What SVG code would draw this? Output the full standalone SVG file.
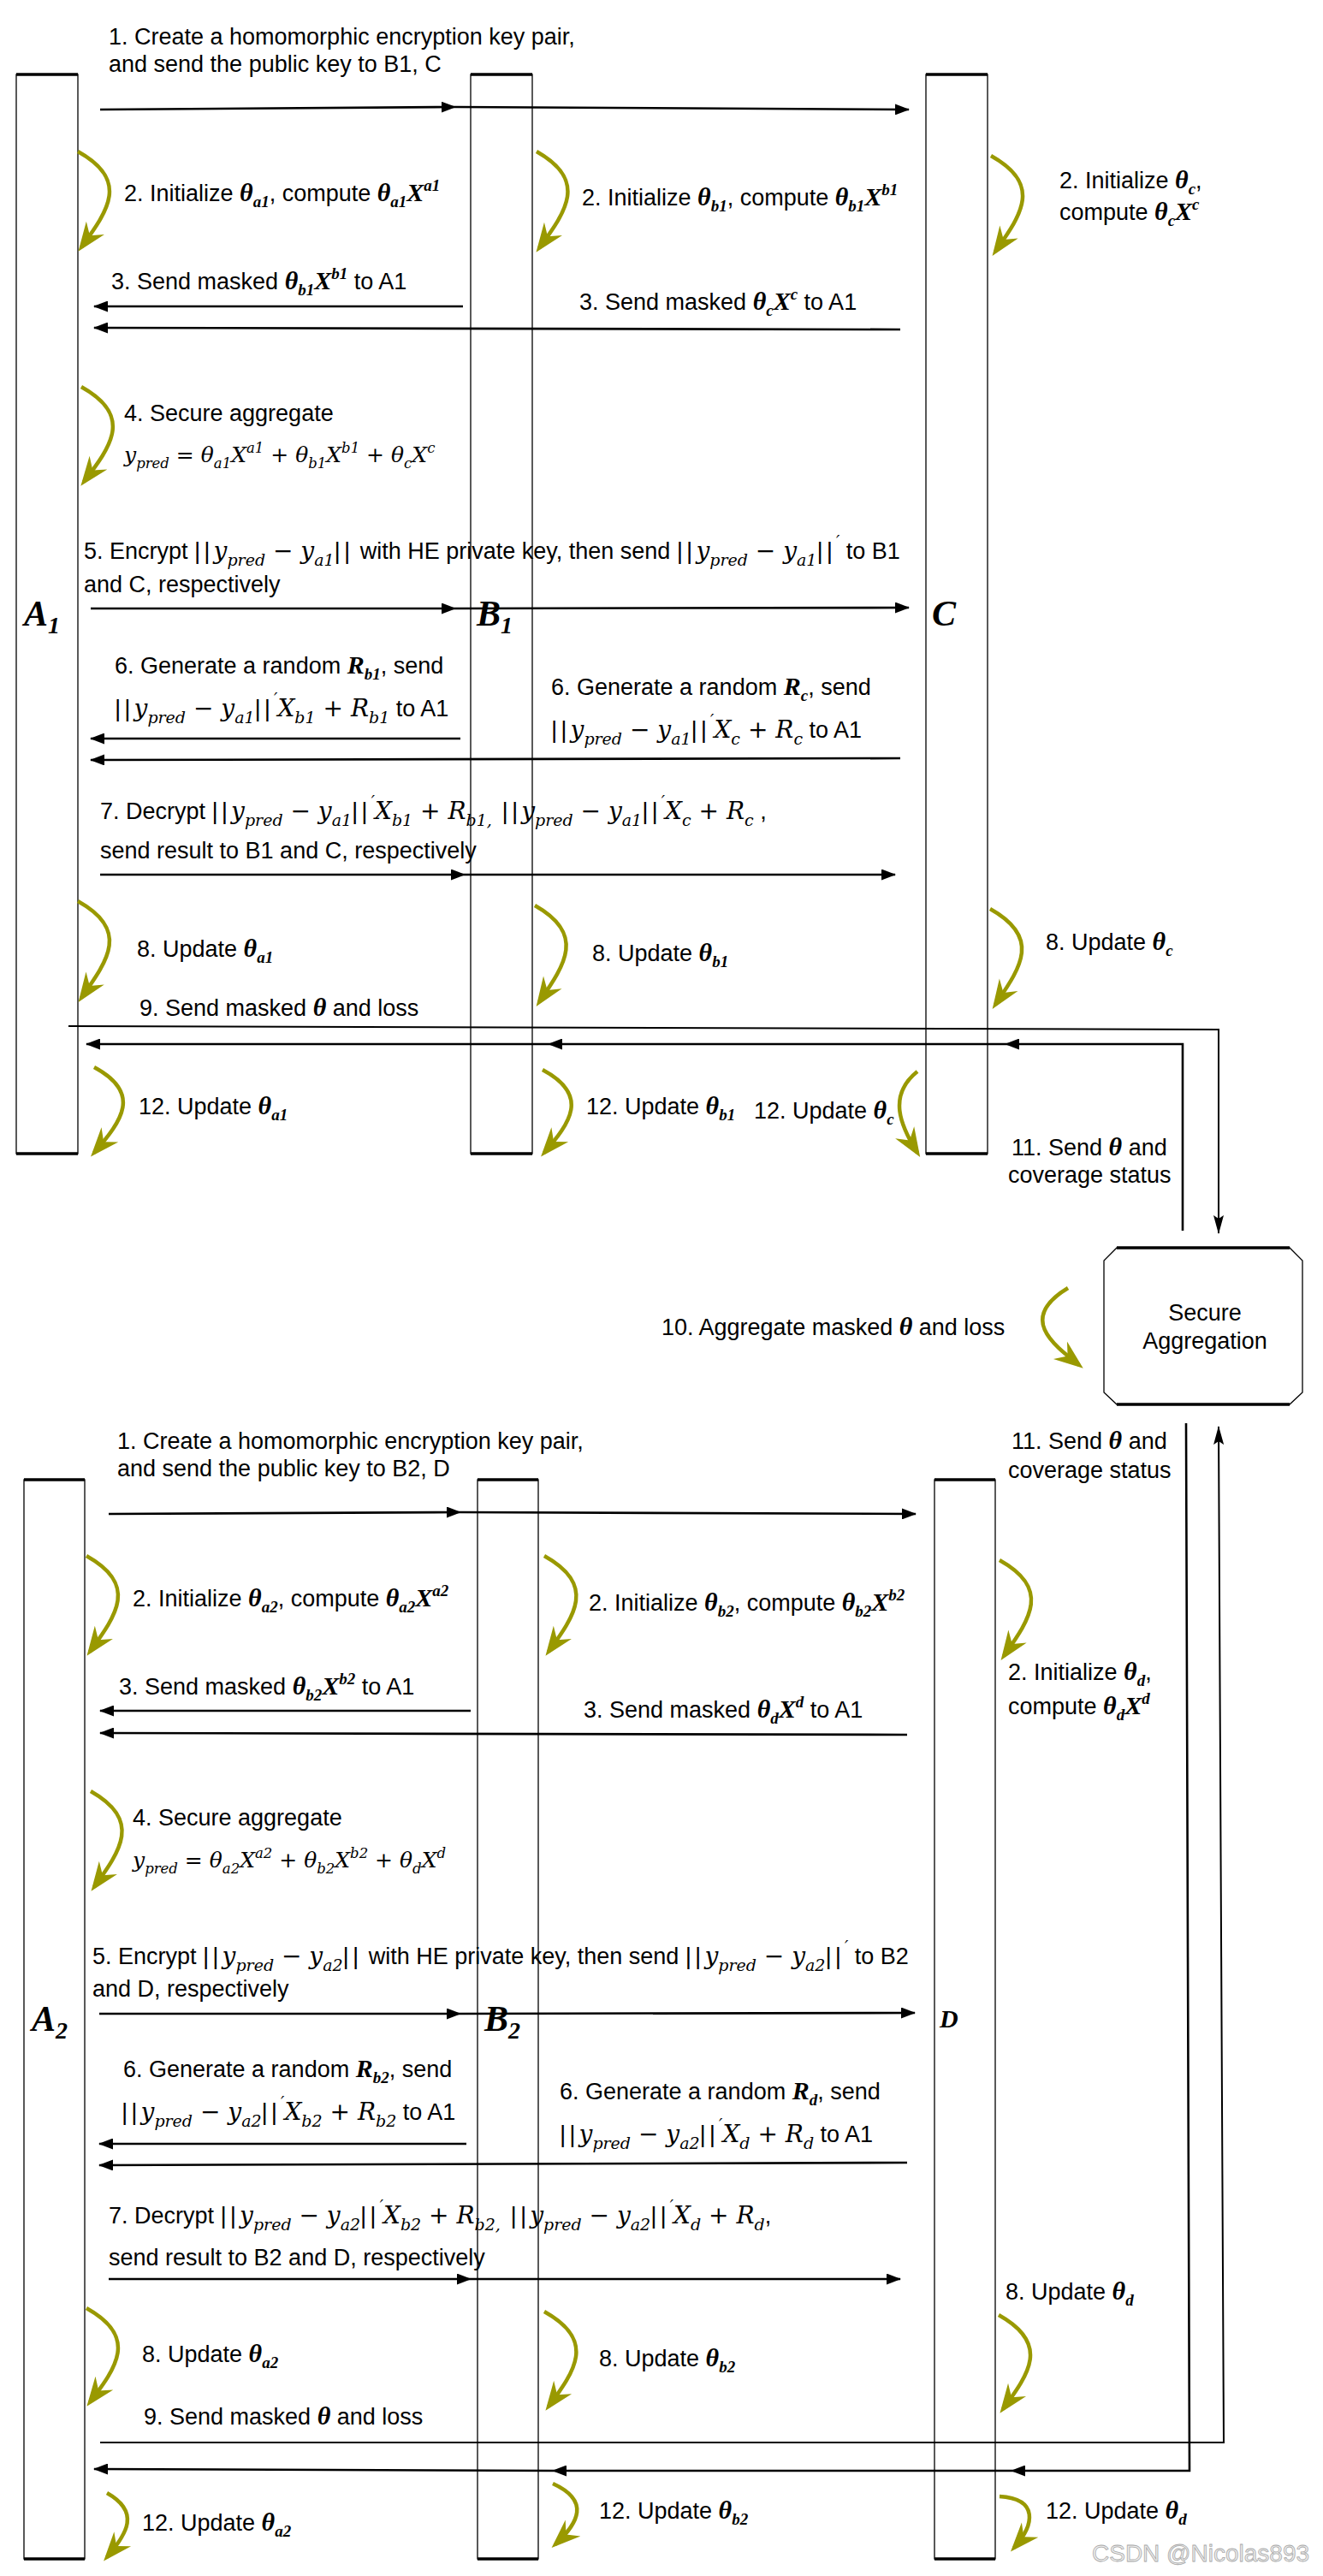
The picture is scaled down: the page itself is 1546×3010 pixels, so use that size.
<svg xmlns="http://www.w3.org/2000/svg" width="1546" height="3010" viewBox="0 0 1546 3010">
<style>
.t{font-family:"Liberation Sans",Arial,sans-serif;font-size:27px;fill:#000}
.m{font-family:"Liberation Serif","Times New Roman",serif;font-style:italic;font-weight:bold;font-size:30px}
.s{font-family:"Liberation Serif","Times New Roman",serif;font-style:italic;font-weight:bold;font-size:19px}
.o{font-family:"Liberation Serif","Times New Roman",serif;font-weight:bold;font-size:30px}
.M{font-family:"DejaVu Serif",serif;font-style:italic;font-size:28px}
.S{font-family:"DejaVu Serif",serif;font-style:italic;font-size:19px}
.O{font-family:"DejaVu Serif",serif;font-size:28px}
.F{font-family:"DejaVu Serif",serif;font-style:italic;font-size:25px}
.FS{font-family:"DejaVu Serif",serif;font-style:italic;font-size:16.5px}
.FO{font-family:"DejaVu Serif",serif;font-size:25px}
.bar{font-family:"Liberation Sans",Arial,sans-serif;font-size:28px;letter-spacing:4px}
.lbl{font-family:"Liberation Serif","Times New Roman",serif;font-style:italic;font-weight:bold;font-size:42px;fill:#000}
.lsub{font-family:"Liberation Serif","Times New Roman",serif;font-weight:bold;font-size:28px}
.life{fill:#fff;stroke:#000;stroke-width:1.3}
.edge{stroke:#000;stroke-width:3.5}
.msg{fill:none;stroke:#000;stroke-width:2.6;marker-end:url(#ah)}
.ret{fill:none;stroke:#000;stroke-width:2;marker-end:url(#ah2)}
.olive{fill:none;stroke:#999900;stroke-width:4.5;marker-end:url(#oh)}
.wm{font-family:"Liberation Sans",Arial,sans-serif;font-size:28px;fill:#eeeeee;stroke:#a8a8a8;stroke-width:0.8}
</style>
<defs>
<marker id="ah" markerUnits="userSpaceOnUse" markerWidth="17" markerHeight="13" refX="16" refY="6.5" orient="auto"><path d="M0,0 L17,6.5 L0,13 Z" fill="#000"/></marker>
<marker id="ah2" markerUnits="userSpaceOnUse" markerWidth="22" markerHeight="12" refX="21" refY="6" orient="auto"><path d="M0,0 L22,6 L0,12 L4,6 Z" fill="#000"/></marker>
<marker id="oh" markerUnits="userSpaceOnUse" markerWidth="34" markerHeight="26" refX="28" refY="13" orient="auto" overflow="visible"><path d="M34,13 L0,0 L11,13 L0,26 Z" fill="#999900"/></marker>
</defs>

<g id="A1"><rect class="life" x="19" y="87" width="72" height="1261"/><line class="edge" x1="19" y1="87" x2="91" y2="87"/><line class="edge" x1="19" y1="1348" x2="91" y2="1348"/><text class="lbl" x="28" y="731">A<tspan class="lsub" dy="9">1</tspan></text></g>
<g id="B1"><rect class="life" x="550" y="87" width="72" height="1261"/><line class="edge" x1="550" y1="87" x2="622" y2="87"/><line class="edge" x1="550" y1="1348" x2="622" y2="1348"/><text class="lbl" x="557" y="731">B<tspan class="lsub" dy="9">1</tspan></text></g>
<g id="C"><rect class="life" x="1082" y="87" width="72" height="1261"/><line class="edge" x1="1082" y1="87" x2="1154" y2="87"/><line class="edge" x1="1082" y1="1348" x2="1154" y2="1348"/><text class="lbl" x="1089" y="731">C</text></g>

<g id="SecureAggregation"><path class="life" d="M1305,1458 L1507,1458 L1522,1473 L1522,1627 L1507,1641 L1305,1641 L1290,1627 L1290,1473 Z"/><line class="edge" x1="1305" y1="1458" x2="1507" y2="1458"/><line class="edge" x1="1305" y1="1641" x2="1507" y2="1641"/><text class="t" x="1408" y="1543" text-anchor="middle">Secure</text><text class="t" x="1408" y="1576" text-anchor="middle">Aggregation</text></g>

<g id="A2"><rect class="life" x="28" y="1729" width="71" height="1261"/><line class="edge" x1="28" y1="1729" x2="99" y2="1729"/><line class="edge" x1="28" y1="2990" x2="99" y2="2990"/><text class="lbl" x="37" y="2373">A<tspan class="lsub" dy="9">2</tspan></text></g>
<g id="B2"><rect class="life" x="558" y="1729" width="71" height="1261"/><line class="edge" x1="558" y1="1729" x2="629" y2="1729"/><line class="edge" x1="558" y1="2990" x2="629" y2="2990"/><text class="lbl" x="566" y="2373">B<tspan class="lsub" dy="9">2</tspan></text></g>
<g id="D"><rect class="life" x="1092" y="1729" width="71" height="1261"/><line class="edge" x1="1092" y1="1729" x2="1163" y2="1729"/><line class="edge" x1="1092" y1="2990" x2="1163" y2="2990"/><text class="lbl" x="1098" y="2369" style="font-size:30px">D</text></g>

<g id="connectors">
<path class="msg" d="M117,128 L532,125"/><path class="msg" d="M532,125 L1062,128"/>
<path class="msg" d="M541,358 L110,358"/>
<path class="msg" d="M1052,385 L110,383"/>
<path class="msg" d="M106,711 L532,711"/><path class="msg" d="M532,711 L1062,710"/>
<path class="msg" d="M538,863 L106,863"/>
<path class="msg" d="M1052,886 L106,888"/>
<path class="msg" d="M117,1022 L543,1022"/><path class="msg" d="M543,1022 L1046,1022"/>
<path class="ret" d="M80,1199 L1424,1203 L1424,1441"/>
<path class="msg" d="M1382,1438 L1382,1220 L1175,1220"/><path class="msg" d="M1175,1220 L641,1220"/><path class="msg" d="M641,1220 L101,1220"/>

<path class="msg" d="M127,1769 L538,1767"/><path class="msg" d="M538,1767 L1070,1769"/>
<path class="msg" d="M550,1999 L117,1999"/>
<path class="msg" d="M1060,2027 L117,2025"/>
<path class="msg" d="M116,2353 L538,2353"/><path class="msg" d="M538,2353 L1069,2352"/>
<path class="msg" d="M545,2505 L116,2505"/>
<path class="msg" d="M1060,2527 L116,2530"/>
<path class="msg" d="M127,2663 L550,2663"/><path class="msg" d="M550,2663 L1052,2663"/>
<path class="ret" d="M117,2854 L1430,2854 L1424,1667"/>
<path class="msg" d="M1386,1663 L1390,2887 L1182,2887"/><path class="msg" d="M1182,2887 L646,2887"/><path class="msg" d="M646,2887 L110,2885"/>

<path class="olive" d="M91,177 C152,211 126,246 95,289"/>
<path class="olive" d="M627,177 C687,211 662,246 630,290"/>
<path class="olive" d="M1158,182 C1219,216 1193,251 1163,294"/>
<path class="olive" d="M95,452 C156,486 130,521 98,563"/>
<path class="olive" d="M91,1053 C152,1087 126,1122 95,1166"/>
<path class="olive" d="M625,1058 C685,1092 660,1127 630,1171"/>
<path class="olive" d="M1157,1062 C1218,1096 1192,1131 1163,1174"/>
<path class="olive" d="M110,1247 C166,1277 143,1309 110,1347"/>
<path class="olive" d="M634,1250 C690,1280 666,1312 636,1347"/>
<path class="olive" d="M1072,1252 C1037,1280 1052,1315 1072,1347"/>
<path class="olive" d="M1248,1505 C1190,1540 1229,1570 1261,1595"/>
<path class="olive" d="M101,1818 C162,1852 136,1887 105,1930"/>
<path class="olive" d="M636,1818 C697,1852 672,1887 641,1930"/>
<path class="olive" d="M1168,1823 C1229,1857 1203,1892 1173,1935"/>
<path class="olive" d="M106,2093 C166,2127 141,2162 110,2205"/>
<path class="olive" d="M101,2697 C162,2731 136,2766 105,2807"/>
<path class="olive" d="M636,2701 C697,2735 672,2770 641,2812"/>
<path class="olive" d="M1167,2705 C1228,2739 1202,2774 1172,2815"/>
<path class="olive" d="M125,2913 C164,2935 149,2960 125,2988"/>
<path class="olive" d="M646,2902 C690,2922 676,2948 649,2973"/>
<path class="olive" d="M1168,2917 C1214,2920 1209,2950 1185,2977"/>
</g>

<g id="labels">
<text class="t" x="127" y="52">1. Create a homomorphic encryption key pair,</text>
<text class="t" x="127" y="84">and send the public key to B1, C</text>
<text class="t" x="145" y="235">2. Initialize <tspan class="m">θ</tspan><tspan class="s" dy="7">a1</tspan><tspan dy="-7">, compute </tspan><tspan class="m">θ</tspan><tspan class="s" dy="7">a1</tspan><tspan class="m" dy="-7">X</tspan><tspan class="s" dy="-12">a1</tspan></text>
<text class="t" x="680" y="240">2. Initialize <tspan class="m">θ</tspan><tspan class="s" dy="7">b1</tspan><tspan dy="-7">, compute </tspan><tspan class="m">θ</tspan><tspan class="s" dy="7">b1</tspan><tspan class="m" dy="-7">X</tspan><tspan class="s" dy="-12">b1</tspan></text>
<text class="t" x="1238" y="220">2. Initialize <tspan class="m">θ</tspan><tspan class="s" dy="7">c</tspan><tspan dy="-7">,</tspan></text>
<text class="t" x="1238" y="257">compute <tspan class="m">θ</tspan><tspan class="s" dy="7">c</tspan><tspan class="m" dy="-7">X</tspan><tspan class="s" dy="-12">c</tspan></text>
<text class="t" x="130" y="338">3. Send masked <tspan class="m">θ</tspan><tspan class="s" dy="7">b1</tspan><tspan class="m" dy="-7">X</tspan><tspan class="s" dy="-12">b1</tspan><tspan dy="12"> to A1</tspan></text>
<text class="t" x="677" y="362">3. Send masked <tspan class="m">θ</tspan><tspan class="s" dy="7">c</tspan><tspan class="m" dy="-7">X</tspan><tspan class="s" dy="-12">c</tspan><tspan dy="12"> to A1</tspan></text>
<text class="t" x="145" y="492">4. Secure aggregate</text>
<text class="t" x="145" y="540"><tspan class="F">y</tspan><tspan class="FS" dy="7">pred</tspan><tspan class="FO" dy="-7"> = </tspan><tspan class="F">θ</tspan><tspan class="FS" dy="7">a1</tspan><tspan class="F" dy="-7">X</tspan><tspan class="FS" dy="-11">a1</tspan><tspan class="FO" dy="11"> + </tspan><tspan class="F">θ</tspan><tspan class="FS" dy="7">b1</tspan><tspan class="F" dy="-7">X</tspan><tspan class="FS" dy="-11">b1</tspan><tspan class="FO" dy="11"> + </tspan><tspan class="F">θ</tspan><tspan class="FS" dy="7">c</tspan><tspan class="F" dy="-7">X</tspan><tspan class="FS" dy="-11">c</tspan></text>
<text class="t" x="98" y="653">5. Encrypt <tspan class="bar">||</tspan><tspan class="M">y</tspan><tspan class="S" dy="8">pred</tspan><tspan class="O" dy="-8"> − </tspan><tspan class="M">y</tspan><tspan class="S" dy="8">a1</tspan><tspan class="bar" dy="-8">||</tspan><tspan> with HE private key, then send </tspan><tspan class="bar">||</tspan><tspan class="M">y</tspan><tspan class="S" dy="8">pred</tspan><tspan class="O" dy="-8"> − </tspan><tspan class="M">y</tspan><tspan class="S" dy="8">a1</tspan><tspan class="bar" dy="-8">||</tspan><tspan class="S" dy="-14">′</tspan><tspan dy="14"> to B1</tspan></text>
<text class="t" x="98" y="692">and C, respectively</text>
<text class="t" x="134" y="787">6. Generate a random <tspan class="m">R</tspan><tspan class="s" dy="7">b1</tspan><tspan dy="-7">, send</tspan></text>
<text class="t" x="134" y="837"><tspan class="bar">||</tspan><tspan class="M">y</tspan><tspan class="S" dy="8">pred</tspan><tspan class="O" dy="-8"> − </tspan><tspan class="M">y</tspan><tspan class="S" dy="8">a1</tspan><tspan class="bar" dy="-8">||</tspan><tspan class="S" dy="-14">′</tspan><tspan class="M" dy="14">X</tspan><tspan class="S" dy="8">b1</tspan><tspan class="O" dy="-8"> + </tspan><tspan class="M">R</tspan><tspan class="S" dy="8">b1</tspan><tspan dy="-8"> to A1</tspan></text>
<text class="t" x="644" y="812">6. Generate a random <tspan class="m">R</tspan><tspan class="s" dy="7">c</tspan><tspan dy="-7">, send</tspan></text>
<text class="t" x="644" y="862"><tspan class="bar">||</tspan><tspan class="M">y</tspan><tspan class="S" dy="8">pred</tspan><tspan class="O" dy="-8"> − </tspan><tspan class="M">y</tspan><tspan class="S" dy="8">a1</tspan><tspan class="bar" dy="-8">||</tspan><tspan class="S" dy="-14">′</tspan><tspan class="M" dy="14">X</tspan><tspan class="S" dy="8">c</tspan><tspan class="O" dy="-8"> + </tspan><tspan class="M">R</tspan><tspan class="S" dy="8">c</tspan><tspan dy="-8"> to A1</tspan></text>
<text class="t" x="117" y="957">7. Decrypt <tspan class="bar">||</tspan><tspan class="M">y</tspan><tspan class="S" dy="8">pred</tspan><tspan class="O" dy="-8"> − </tspan><tspan class="M">y</tspan><tspan class="S" dy="8">a1</tspan><tspan class="bar" dy="-8">||</tspan><tspan class="S" dy="-14">′</tspan><tspan class="M" dy="14">X</tspan><tspan class="S" dy="8">b1</tspan><tspan class="O" dy="-8"> + </tspan><tspan class="M">R</tspan><tspan class="S" dy="8">b1,</tspan><tspan class="bar" dy="-8"> ||</tspan><tspan class="M">y</tspan><tspan class="S" dy="8">pred</tspan><tspan class="O" dy="-8"> − </tspan><tspan class="M">y</tspan><tspan class="S" dy="8">a1</tspan><tspan class="bar" dy="-8">||</tspan><tspan class="S" dy="-14">′</tspan><tspan class="M" dy="14">X</tspan><tspan class="S" dy="8">c</tspan><tspan class="O" dy="-8"> + </tspan><tspan class="M">R</tspan><tspan class="S" dy="8">c</tspan><tspan dy="-8"> ,</tspan></text>
<text class="t" x="117" y="1003">send result to B1 and C, respectively</text>
<text class="t" x="160" y="1118">8. Update <tspan class="m">θ</tspan><tspan class="s" dy="7">a1</tspan></text>
<text class="t" x="692" y="1123">8. Update <tspan class="m">θ</tspan><tspan class="s" dy="7">b1</tspan></text>
<text class="t" x="1222" y="1110">8. Update <tspan class="m">θ</tspan><tspan class="s" dy="7">c</tspan></text>
<text class="t" x="163" y="1187">9. Send masked <tspan class="m">θ</tspan> and loss</text>
<text class="t" x="162" y="1302">12. Update <tspan class="m">θ</tspan><tspan class="s" dy="7">a1</tspan></text>
<text class="t" x="685" y="1302">12. Update <tspan class="m">θ</tspan><tspan class="s" dy="7">b1</tspan></text>
<text class="t" x="881" y="1307">12. Update <tspan class="m">θ</tspan><tspan class="s" dy="7">c</tspan></text>
<text class="t" x="1182" y="1350">11. Send <tspan class="m">θ</tspan> and</text>
<text class="t" x="1178" y="1382">coverage status</text>
<text class="t" x="773" y="1560">10. Aggregate masked <tspan class="m">θ</tspan> and loss</text>

<text class="t" x="137" y="1693">1. Create a homomorphic encryption key pair,</text>
<text class="t" x="137" y="1725">and send the public key to B2, D</text>
<text class="t" x="1182" y="1693">11. Send <tspan class="m">θ</tspan> and</text>
<text class="t" x="1178" y="1727">coverage status</text>
<text class="t" x="155" y="1877">2. Initialize <tspan class="m">θ</tspan><tspan class="s" dy="7">a2</tspan><tspan dy="-7">, compute </tspan><tspan class="m">θ</tspan><tspan class="s" dy="7">a2</tspan><tspan class="m" dy="-7">X</tspan><tspan class="s" dy="-12">a2</tspan></text>
<text class="t" x="688" y="1882">2. Initialize <tspan class="m">θ</tspan><tspan class="s" dy="7">b2</tspan><tspan dy="-7">, compute </tspan><tspan class="m">θ</tspan><tspan class="s" dy="7">b2</tspan><tspan class="m" dy="-7">X</tspan><tspan class="s" dy="-12">b2</tspan></text>
<text class="t" x="1178" y="1963">2. Initialize <tspan class="m">θ</tspan><tspan class="s" dy="7">d</tspan><tspan dy="-7">,</tspan></text>
<text class="t" x="1178" y="2003">compute <tspan class="m">θ</tspan><tspan class="s" dy="7">d</tspan><tspan class="m" dy="-7">X</tspan><tspan class="s" dy="-12">d</tspan></text>
<text class="t" x="139" y="1980">3. Send masked <tspan class="m">θ</tspan><tspan class="s" dy="7">b2</tspan><tspan class="m" dy="-7">X</tspan><tspan class="s" dy="-12">b2</tspan><tspan dy="12"> to A1</tspan></text>
<text class="t" x="682" y="2007">3. Send masked <tspan class="m">θ</tspan><tspan class="s" dy="7">d</tspan><tspan class="m" dy="-7">X</tspan><tspan class="s" dy="-12">d</tspan><tspan dy="12"> to A1</tspan></text>
<text class="t" x="155" y="2133">4. Secure aggregate</text>
<text class="t" x="155" y="2182"><tspan class="F">y</tspan><tspan class="FS" dy="7">pred</tspan><tspan class="FO" dy="-7"> = </tspan><tspan class="F">θ</tspan><tspan class="FS" dy="7">a2</tspan><tspan class="F" dy="-7">X</tspan><tspan class="FS" dy="-11">a2</tspan><tspan class="FO" dy="11"> + </tspan><tspan class="F">θ</tspan><tspan class="FS" dy="7">b2</tspan><tspan class="F" dy="-7">X</tspan><tspan class="FS" dy="-11">b2</tspan><tspan class="FO" dy="11"> + </tspan><tspan class="F">θ</tspan><tspan class="FS" dy="7">d</tspan><tspan class="F" dy="-7">X</tspan><tspan class="FS" dy="-11">d</tspan></text>
<text class="t" x="108" y="2295">5. Encrypt <tspan class="bar">||</tspan><tspan class="M">y</tspan><tspan class="S" dy="8">pred</tspan><tspan class="O" dy="-8"> − </tspan><tspan class="M">y</tspan><tspan class="S" dy="8">a2</tspan><tspan class="bar" dy="-8">||</tspan><tspan> with HE private key, then send </tspan><tspan class="bar">||</tspan><tspan class="M">y</tspan><tspan class="S" dy="8">pred</tspan><tspan class="O" dy="-8"> − </tspan><tspan class="M">y</tspan><tspan class="S" dy="8">a2</tspan><tspan class="bar" dy="-8">||</tspan><tspan class="S" dy="-14">′</tspan><tspan dy="14"> to B2</tspan></text>
<text class="t" x="108" y="2333">and D, respectively</text>
<text class="t" x="144" y="2427">6. Generate a random <tspan class="m">R</tspan><tspan class="s" dy="7">b2</tspan><tspan dy="-7">, send</tspan></text>
<text class="t" x="142" y="2477"><tspan class="bar">||</tspan><tspan class="M">y</tspan><tspan class="S" dy="8">pred</tspan><tspan class="O" dy="-8"> − </tspan><tspan class="M">y</tspan><tspan class="S" dy="8">a2</tspan><tspan class="bar" dy="-8">||</tspan><tspan class="S" dy="-14">′</tspan><tspan class="M" dy="14">X</tspan><tspan class="S" dy="8">b2</tspan><tspan class="O" dy="-8"> + </tspan><tspan class="M">R</tspan><tspan class="S" dy="8">b2</tspan><tspan dy="-8"> to A1</tspan></text>
<text class="t" x="654" y="2453">6. Generate a random <tspan class="m">R</tspan><tspan class="s" dy="7">d</tspan><tspan dy="-7">, send</tspan></text>
<text class="t" x="654" y="2503"><tspan class="bar">||</tspan><tspan class="M">y</tspan><tspan class="S" dy="8">pred</tspan><tspan class="O" dy="-8"> − </tspan><tspan class="M">y</tspan><tspan class="S" dy="8">a2</tspan><tspan class="bar" dy="-8">||</tspan><tspan class="S" dy="-14">′</tspan><tspan class="M" dy="14">X</tspan><tspan class="S" dy="8">d</tspan><tspan class="O" dy="-8"> + </tspan><tspan class="M">R</tspan><tspan class="S" dy="8">d</tspan><tspan dy="-8"> to A1</tspan></text>
<text class="t" x="127" y="2598">7. Decrypt <tspan class="bar">||</tspan><tspan class="M">y</tspan><tspan class="S" dy="8">pred</tspan><tspan class="O" dy="-8"> − </tspan><tspan class="M">y</tspan><tspan class="S" dy="8">a2</tspan><tspan class="bar" dy="-8">||</tspan><tspan class="S" dy="-14">′</tspan><tspan class="M" dy="14">X</tspan><tspan class="S" dy="8">b2</tspan><tspan class="O" dy="-8"> + </tspan><tspan class="M">R</tspan><tspan class="S" dy="8">b2,</tspan><tspan class="bar" dy="-8"> ||</tspan><tspan class="M">y</tspan><tspan class="S" dy="8">pred</tspan><tspan class="O" dy="-8"> − </tspan><tspan class="M">y</tspan><tspan class="S" dy="8">a2</tspan><tspan class="bar" dy="-8">||</tspan><tspan class="S" dy="-14">′</tspan><tspan class="M" dy="14">X</tspan><tspan class="S" dy="8">d</tspan><tspan class="O" dy="-8"> + </tspan><tspan class="M">R</tspan><tspan class="S" dy="8">d</tspan><tspan dy="-8">,</tspan></text>
<text class="t" x="127" y="2647">send result to B2 and D, respectively</text>
<text class="t" x="1175" y="2687">8. Update <tspan class="m">θ</tspan><tspan class="s" dy="7">d</tspan></text>
<text class="t" x="166" y="2760">8. Update <tspan class="m">θ</tspan><tspan class="s" dy="7">a2</tspan></text>
<text class="t" x="700" y="2765">8. Update <tspan class="m">θ</tspan><tspan class="s" dy="7">b2</tspan></text>
<text class="t" x="168" y="2833">9. Send masked <tspan class="m">θ</tspan> and loss</text>
<text class="t" x="166" y="2957">12. Update <tspan class="m">θ</tspan><tspan class="s" dy="7">a2</tspan></text>
<text class="t" x="700" y="2943">12. Update <tspan class="m">θ</tspan><tspan class="s" dy="7">b2</tspan></text>
<text class="t" x="1222" y="2943">12. Update <tspan class="m">θ</tspan><tspan class="s" dy="7">d</tspan></text>
<text class="wm" x="1276" y="2993">CSDN @Nicolas893</text>
</g>
</svg>
